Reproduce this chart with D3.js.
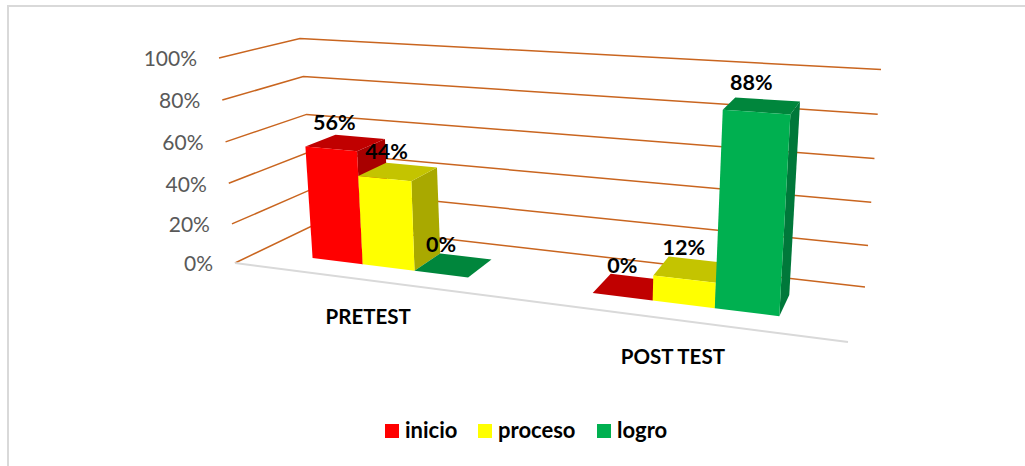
<!DOCTYPE html>
<html lang="en">

<head>
  <meta charset="utf-8">
  <title>Pretest / Post test</title>
  <script src="https://cdn.jsdelivr.net/npm/d3@7"></script>
  <style>
    body { margin: 0; background: #fff; }
    svg { display: block; font-family: Lato, sans-serif; }
  </style>
</head>

<body>
  <svg class="chart"></svg>
  <script>
    var w = 1025;
    var h = 466;

    // Data
    var categories = ["PRETEST", "POST TEST"];
    var seriesNames = ["inicio", "proceso", "logro"];
    var inicio = [56, 0];
    var proceso = [44, 12];
    var logro = [0, 88];
    var seriesValues = [inicio, proceso, logro];
    var tickValues = [0, 20, 40, 60, 80, 100];

    var frontColors = ["#ff0000", "#ffff00", "#00b050"];
    var topColors = ["#c00000", "#c4c400", "#00863c"];
    var sideColors = ["#a80000", "#a9a900", "#00783a"];

    var svg = d3.select("svg")
      .attr("width", w)
      .attr("height", h);

    // Box corners on screen: floor and top of the value range
    var floorFL = [235, 263], floorBL = [316, 224], floorBR = [865, 287], floorFR = [848, 342];
    var topFL = [219, 58], topBL = [300, 38.5], topBR = [881, 69.5], topFR = [865, 100];

    // Scales
    var x0 = d3.scaleBand().domain(categories).range([0, 1]);
    var x1 = d3.scaleBand().domain(seriesNames).range([0, x0.bandwidth()]).paddingOuter(1.1);
    var y = d3.scalePow().exponent(1.03).domain([0, 100]).range([0, 1]);
    var frontZ = 0.3;
    var backZ = 0.7;

    // Foreshortening along the x direction
    function persp(t) {
      return t / (1.2 - 0.2 * t);
    }

    function quad(a, b, c, d, s, z) {
      var ax = a[0] + (b[0] - a[0]) * z, ay = a[1] + (b[1] - a[1]) * z;
      var cx = d[0] + (c[0] - d[0]) * z, cy = d[1] + (c[1] - d[1]) * z;
      return [ax + (cx - ax) * s, ay + (cy - ay) * s];
    }

    // t along the categories, value in percent, z depth (0 front, 1 back)
    function project(t, value, z) {
      var s = persp(t);
      var f = quad(floorFL, floorBL, floorBR, floorFR, s, z);
      var g = quad(topFL, topBL, topBR, topFR, s, z);
      var v = y(value);
      return [f[0] + (g[0] - f[0]) * v, f[1] + (g[1] - f[1]) * v];
    }

    var line = d3.line();

    // Chart border, only left and top show in the crop
    svg.append("path")
      .attr("d", line([[8, h], [8, 6], [w, 6]]))
      .attr("fill", "none")
      .attr("stroke", "#d9d9d9")
      .attr("stroke-width", 2);

    // Gridlines on the side and back walls
    svg.selectAll(".grid")
      .data(tickValues)
      .enter()
      .append("path")
      .attr("class", "grid")
      .attr("d", function(d) {
        return line([project(0, d, 0), project(0, d, 1), project(1, d, 1)]);
      })
      .attr("fill", "none")
      .attr("stroke", "#c9651f")
      .attr("stroke-width", 1.5);

    // Floor front edge
    svg.append("path")
      .attr("d", line([project(0, 0, 0), project(1, 0, 0)]))
      .attr("stroke", "#d9d9d9")
      .attr("stroke-width", 2);

    // Y labels
    svg.selectAll(".ylabel")
      .data(tickValues)
      .enter()
      .append("text")
      .attr("class", "ylabel")
      .attr("x", function(d) { return project(0, d, 0)[0] - 22; })
      .attr("y", function(d) { return project(0, d, 0)[1] + 1; })
      .attr("dy", "0.35em")
      .attr("text-anchor", "end")
      .attr("font-size", 21)
      .attr("fill", "#595959")
      .text(function(d) { return d + "%"; });

    // Bars
    categories.forEach(function(cat, c) {
      seriesNames.forEach(function(name, i) {
        var value = seriesValues[i][c];
        var t0 = x0(cat) + x1(name);
        var t1 = t0 + x1.bandwidth();
        var g = svg.append("g").attr("class", "bar");

        g.append("path")
          .attr("d", line([project(t1, 0, frontZ), project(t1, 0, backZ), project(t1, value, backZ), project(t1, value, frontZ)]) + "Z")
          .attr("fill", sideColors[i]);
        g.append("path")
          .attr("d", line([project(t0, value, frontZ), project(t0, value, backZ), project(t1, value, backZ), project(t1, value, frontZ)]) + "Z")
          .attr("fill", topColors[i]);
        g.append("path")
          .attr("d", line([project(t0, 0, frontZ), project(t0, value, frontZ), project(t1, value, frontZ), project(t1, 0, frontZ)]) + "Z")
          .attr("fill", frontColors[i]);
      });
    });

    // Data labels go on top of every bar
    categories.forEach(function(cat, c) {
      seriesNames.forEach(function(name, i) {
        var value = seriesValues[i][c];
        var tc = x0(cat) + x1(name) + x1.bandwidth() / 2;
        svg.append("text")
          .attr("class", "label")
          .attr("x", project(tc, value / 2, frontZ)[0])
          .attr("y", project(tc, value * 1.03, backZ)[1] - 4)
          .attr("text-anchor", "middle")
          .attr("font-size", 21.5)
          .attr("font-weight", "bold")
          .attr("fill", "#000")
          .text(value + "%");
      });
    });

    // Category labels
    svg.selectAll(".cat")
      .data(categories)
      .enter()
      .append("text")
      .attr("class", "cat")
      .attr("x", function(d) { return project(x0(d) + x0.bandwidth() / 2, 0, 0)[0]; })
      .attr("y", function(d) { return project(x0(d) + x0.bandwidth() / 2, 0, 0)[1] + 37; })
      .attr("dy", "0.35em")
      .attr("text-anchor", "middle")
      .attr("font-size", 20.5)
      .attr("font-weight", "bold")
      .attr("fill", "#000")
      .text(function(d) { return d; });

    // Legend
    var legendX = d3.scaleOrdinal().domain(seriesNames).range([385, 478, 597]);
    var legend = svg.selectAll(".legend")
      .data(seriesNames)
      .enter()
      .append("g")
      .attr("class", "legend")
      .attr("transform", function(d) { return "translate(" + legendX(d) + ",424)"; });
    legend.append("rect")
      .attr("width", 14)
      .attr("height", 14)
      .attr("fill", function(d, i) { return frontColors[i]; });
    legend.append("text")
      .attr("x", 20)
      .attr("y", 14)
      .attr("font-size", 22)
      .attr("font-weight", "bold")
      .attr("fill", "#000")
      .text(function(d) { return d; });
  </script>
</body>

</html>
